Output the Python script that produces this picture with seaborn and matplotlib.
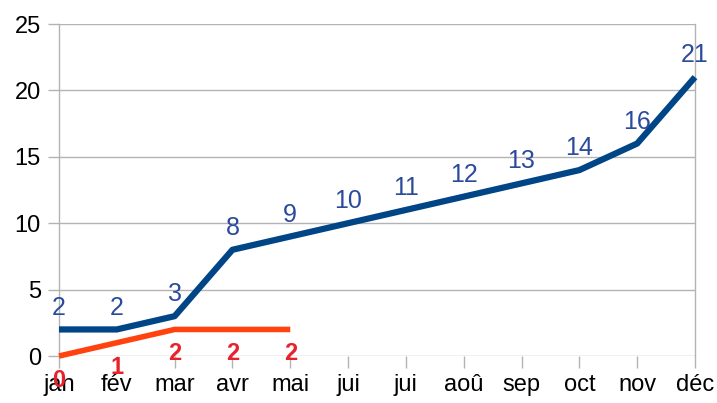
import matplotlib
matplotlib.use("Agg")
import matplotlib.pyplot as plt
import seaborn as sns
import pandas as pd

months = ["jan", "fév", "mar", "avr", "mai", "jui", "jui", "aoû", "sep", "oct", "nov", "déc"]
series_blue = [2, 2, 3, 8, 9, 10, 11, 12, 13, 14, 16, 21]
series_orange = [0, 1, 2, 2, 2]

sns.set_theme(style="white")
plt.rcParams["font.family"] = ["Liberation Sans", "DejaVu Sans"]

fig = plt.figure(figsize=(7.17, 4.03), dpi=100)
ax = fig.add_axes([0.0823, 0.1166, 0.9693 - 0.0823, 0.9404 - 0.1166])

df_b = pd.DataFrame({"x": range(len(series_blue)), "y": series_blue})
df_o = pd.DataFrame({"x": range(len(series_orange)), "y": series_orange})

grid_c = "#b3b3b3"
for v in [0, 5, 10, 15, 20, 25]:
    ax.axhline(v, color=grid_c, lw=1.0, zorder=0)

sns.lineplot(data=df_b, x="x", y="y", ax=ax, color="#004586", lw=4.5, clip_on=False, zorder=3)
sns.lineplot(data=df_o, x="x", y="y", ax=ax, color="#ff420e", lw=4.0, clip_on=False, zorder=4)
for l in ax.lines:
    l.set_solid_capstyle("butt")
    l.set_solid_joinstyle("round")

for i, v in enumerate(series_blue):
    ax.annotate(str(v), (i, v), xytext=(0, 15.8), textcoords="offset points",
                ha="center", va="center", color="#2a4a9c", fontsize=18, zorder=5,
                annotation_clip=False)
for i, v in enumerate(series_orange):
    ax.annotate(str(v), (i, v), xytext=(0, -17.5), textcoords="offset points",
                ha="center", va="center", color="#e8212b", fontsize=17,
                fontweight="bold", zorder=5, annotation_clip=False)

ax.set_xlim(0, len(months) - 1)
ax.set_ylim(0, 25)
ax.set_xticks(range(len(months)))
ax.set_xticklabels(months)
ax.set_yticks([0, 5, 10, 15, 20, 25])
ax.set_xlabel("")
ax.set_ylabel("")

for s in ["top", "bottom"]:
    ax.spines[s].set_visible(False)
for s in ["left", "right"]:
    ax.spines[s].set_color(grid_c)
    ax.spines[s].set_linewidth(1.0)

ax.tick_params(axis="x", length=8.5, width=1.0, color=grid_c, pad=4.5,
               labelsize=17, labelcolor="black", bottom=True)
ax.tick_params(axis="y", length=8, width=1.0, color=grid_c, pad=5,
               labelsize=17, labelcolor="black", left=True)

fig.savefig("out.png", dpi=100)
